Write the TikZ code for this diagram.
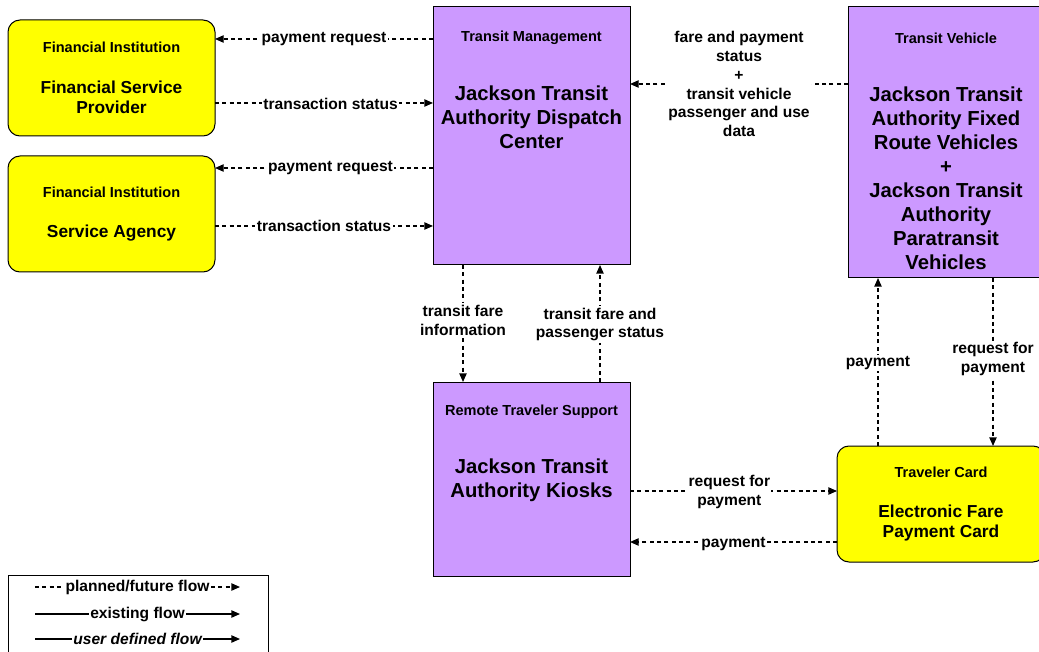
\documentclass[tikz,border=0pt]{standalone}
\usepackage{fontspec}
\setmainfont{Liberation Sans}
\usetikzlibrary{arrows.meta}
\definecolor{vio}{RGB}{204,153,255}
\definecolor{yel}{RGB}{255,255,0}
\begin{document}
\begin{tikzpicture}[x=0.75pt,y=-0.75pt,
  box/.style={draw=black, line width=0.75pt, inner sep=0pt, outer sep=0pt},
  ybox/.style={box, fill=yel, rounded corners=9pt, minimum width=155.25pt, minimum height=87pt},
  pbox/.style={box, fill=vio, minimum width=147.75pt},
  ttl/.style={font=\fontsize{10.9}{13}\selectfont\bfseries, inner sep=0pt},
  ymain/.style={font=\fontsize{13}{15}\selectfont\bfseries, align=center, inner sep=0pt},
  pmain/.style={font=\fontsize{15.2}{18}\selectfont\bfseries, align=center, inner sep=0pt},
  lbl/.style={font=\fontsize{11.7}{14.2}\selectfont\bfseries, align=center, fill=white, inner sep=1pt},
  flow/.style={line width=1pt, dash pattern=on 3pt off 2.5pt, -{Triangle[length=6.5pt,width=5.5pt]}},
  solidflow/.style={line width=1pt, -{Triangle[length=6.5pt,width=5.5pt]}}
]
\useasboundingbox (0,0) rectangle (1039,652);

% boxes
\node[ybox] (fsp) at (111.5,78) {};
\node[ybox] (sa) at (111.5,214) {};
\node[pbox, minimum height=193.5pt] (tm) at (531.5,136) {};
\node[pbox, minimum width=147pt, minimum height=203.25pt] (tv) at (946,142.5) {};
\node[pbox, minimum height=145.5pt] (rts) at (531.5,479) {};
\node[ybox, minimum width=156pt] (tc) at (941,504) {};

% texts
\node[ttl] (fspT) at (111.5,47) {Financial Institution};
\node[ymain] (fspM) at (111.5,97) {Financial Service\\Provider};
\node[ttl] (saT) at (111.5,192) {Financial Institution};
\node[ymain] (saM) at (111.5,233.5) {Service Agency};
\node[ttl] (tmT) at (531.5,38) {Transit Management};
\node[pmain] (tmM) at (531.5,117.5) {Jackson Transit\\Authority Dispatch\\Center};
\node[ttl] (tvT) at (946,38) {Transit Vehicle};
\node[pmain] (tvM) at (946,178) {Jackson Transit\\Authority Fixed\\Route Vehicles\\+\\Jackson Transit\\Authority\\Paratransit\\Vehicles};
\node[ttl] (rtsT) at (531.5,412) {Remote Traveler Support};
\node[pmain] (rtsM) at (531.5,480) {Jackson Transit\\Authority Kiosks};
\node[ttl] (tcT) at (941,472) {Traveler Card};
\node[ymain] (tcM) at (941,523) {Electronic Fare\\Payment Card};

% flows
\draw[flow] (tm.west |- 0,39) -- node[lbl] (l1) {payment request} (fsp.east |- 0,39);
\draw[flow] (fsp.east |- 0,103) -- node[lbl, pos=0.53, yshift=-0.75pt] (l2) {transaction status} (tm.west |- 0,103);
\draw[flow] (tm.west |- 0,168) -- node[lbl, pos=0.47] (l3) {payment request} (sa.east |- 0,168);
\draw[flow] (sa.east |- 0,226) -- node[lbl] (l4) {transaction status} (tm.west |- 0,226);
\draw[flow] (tv.west |- 0,84) -- node[lbl] (l5) {fare and payment\\status\\+\\transit vehicle\\passenger and use\\data} (tm.east |- 0,84);
\draw[flow] (tm.south -| 463,0) -- node[lbl, pos=0.47] (l6) {transit fare\\information} (rts.north -| 463,0);
\draw[flow] (rts.north -| 600,0) -- node[lbl, pos=0.5, yshift=-0.75pt] (l7) {transit fare and\\passenger status} (tm.south -| 600,0);
\draw[flow] (tc.north -| 878,0) -- node[lbl, yshift=-0.75pt] (l8) {payment} (tv.south -| 878,0);
\draw[flow] (tv.south -| 993,0) -- node[lbl, pos=0.47, yshift=-1.5pt] (l9) {request for\\payment} (tc.north -| 993,0);
\draw[flow] (rts.east |- 0,491) -- node[lbl, pos=0.48, yshift=-0.75pt] (l10) {request for\\payment} (tc.west |- 0,491);
\draw[flow] (tc.west |- 0,542) -- node[lbl, pos=0.5, yshift=-1.5pt] (l11) {payment} (rts.east |- 0,542);

% legend
\node[box, minimum width=195pt, minimum height=67.5pt, anchor=north west] (leg) at (8,575) {};
\coordinate (la1) at (35,587); \coordinate (lb1) at (240,587);
\coordinate (la2) at (35,614); \coordinate (lb2) at (240,614);
\coordinate (la3) at (35,639); \coordinate (lb3) at (240,639);
\draw[flow] (la1) -- node[lbl] (lg1) {planned/future flow} (lb1);
\draw[solidflow] (la2) -- node[lbl] (lg2) {existing flow} (lb2);
\draw[solidflow] (la3) -- node[lbl, font=\fontsize{11.7}{14.2}\selectfont\bfseries\itshape] (lg3) {user defined flow} (lb3);
\end{tikzpicture}
\end{document}
